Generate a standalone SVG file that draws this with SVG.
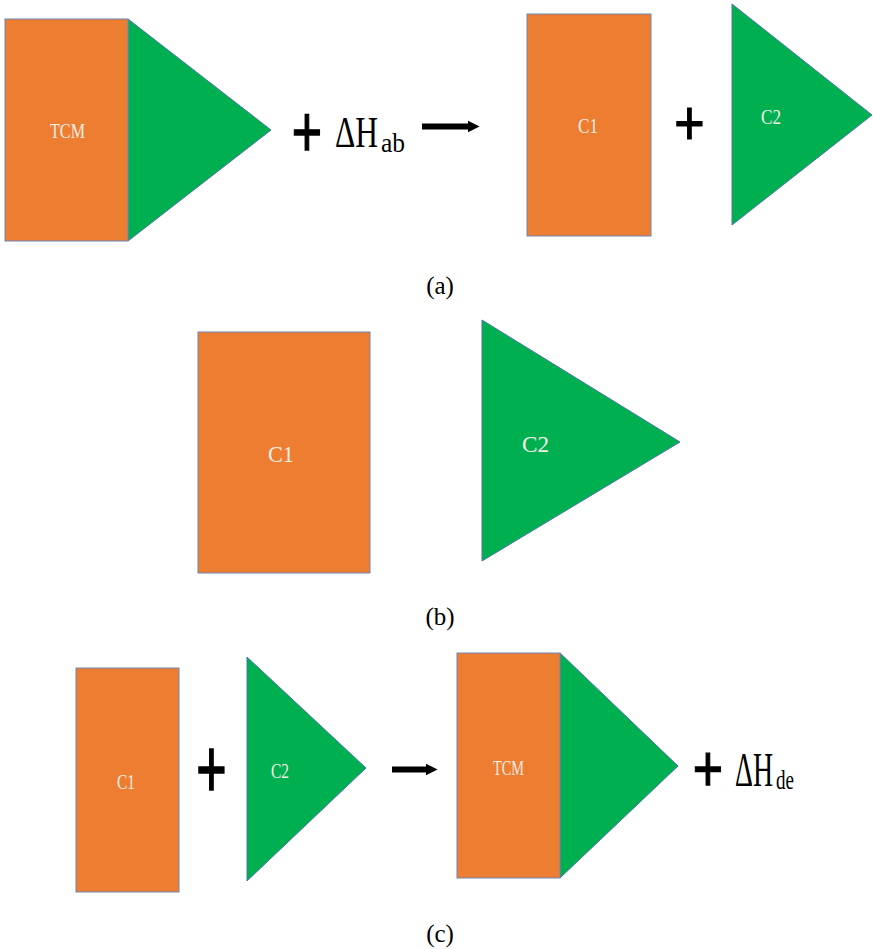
<svg xmlns="http://www.w3.org/2000/svg" width="873" height="949" viewBox="0 0 873 949">
<style>
.rect{fill:#ED7D31;stroke:#6E86B8;stroke-width:1}
.tri{fill:#00B050;stroke:#4E74A8;stroke-width:1}
.lbl{fill:#F4EEE6;text-anchor:middle}
.plus{fill:#000;text-anchor:middle;font-size:52px;stroke:#000;stroke-width:1}
.dh{fill:#000}
.cap{fill:#000;text-anchor:middle;font-size:25px}
.shaft{stroke:#000;stroke-width:6;fill:none}
</style>
<defs>
<marker id="ah" viewBox="0 0 10 10" refX="2" refY="5" markerWidth="2" markerHeight="2.2" orient="auto" markerUnits="strokeWidth">
<path d="M0,0 L10,5 L0,10 z" fill="#000"/>
</marker>
</defs>
<rect width="873" height="949" fill="#fff"/>

<g font-family="'Liberation Serif', 'Times New Roman', serif">
<!-- Panel (a) -->
<g id="a-tcm">
<polygon class="tri" points="128,19 271,130 128,241"/>
<rect class="rect" x="5" y="19" width="123" height="222"/>
<text class="lbl" x="67.5" y="138" font-size="21" textLength="35" lengthAdjust="spacingAndGlyphs">TCM</text>
</g>
<g id="a-plus1"><text class="plus" font-family="'Liberation Sans', Arial, sans-serif" transform="translate(307,131) scale(1,1.4)" y="18">+</text></g>
<g id="a-dh">
<text class="dh" x="335" y="147" font-size="44" textLength="43" lengthAdjust="spacingAndGlyphs">ΔH</text>
<text class="dh" x="381" y="152" font-size="28" textLength="24" lengthAdjust="spacingAndGlyphs">ab</text>
</g>
<g id="a-c1">
<rect class="rect" x="527" y="14" width="124" height="222"/>
<text class="lbl" x="588" y="133" font-size="22" textLength="20" lengthAdjust="spacingAndGlyphs">C1</text>
</g>
<g id="a-plus2"><text class="plus" font-family="'Liberation Sans', Arial, sans-serif" transform="translate(689.5,123) scale(1,1.2)" y="18">+</text></g>
<g id="a-c2">
<polygon class="tri" points="732,4 872,115 732,225"/>
<text class="lbl" x="771" y="124" font-size="22" textLength="20" lengthAdjust="spacingAndGlyphs">C2</text>
</g>
<text class="cap" x="440" y="294">(a)</text>

<!-- Panel (b) -->
<g id="b-c1">
<rect class="rect" x="198" y="332" width="172" height="241"/>
<text class="lbl" x="281" y="462" font-size="24" textLength="26" lengthAdjust="spacingAndGlyphs">C1</text>
</g>
<g id="b-c2">
<polygon class="tri" points="482,320 680,442 482,561"/>
<text class="lbl" x="535.5" y="452" font-size="24" textLength="27" lengthAdjust="spacingAndGlyphs">C2</text>
</g>
<text class="cap" x="440" y="625">(b)</text>

<!-- Panel (c) -->
<g id="c-c1">
<rect class="rect" x="76" y="668" width="103" height="224"/>
<text class="lbl" x="126" y="789" font-size="22" textLength="18" lengthAdjust="spacingAndGlyphs">C1</text>
</g>
<g id="c-plus1"><text class="plus" font-family="'Liberation Sans', Arial, sans-serif" transform="translate(211.5,771.5) scale(1,1.6)" y="16" font-size="46">+</text></g>
<g id="c-c2">
<polygon class="tri" points="247,657 366,768 247,881"/>
<text class="lbl" x="280" y="778" font-size="22" textLength="18" lengthAdjust="spacingAndGlyphs">C2</text>
</g>
<g id="c-tcm">
<polygon class="tri" points="560,653 678,766 560,878"/>
<rect class="rect" x="457" y="653" width="103" height="225"/>
<text class="lbl" x="508.5" y="775" font-size="21" textLength="31" lengthAdjust="spacingAndGlyphs">TCM</text>
</g>
<g id="c-plus2"><text class="plus" font-family="'Liberation Sans', Arial, sans-serif" transform="translate(708,770.5) scale(1,1.25)" y="16" font-size="46">+</text></g>
<g id="c-dh">
<text class="dh" x="735" y="786" font-size="48" textLength="38" lengthAdjust="spacingAndGlyphs">ΔH</text>
<text class="dh" x="776" y="789" font-size="28" textLength="18" lengthAdjust="spacingAndGlyphs">de</text>
</g>
<text class="cap" x="440" y="942">(c)</text>
</g>

<g id="connectors">
<path class="shaft" d="M422,126.5 H470" marker-end="url(#ah)"/>
<path class="shaft" d="M392,769.5 H428" marker-end="url(#ah)"/>
</g>
</svg>
